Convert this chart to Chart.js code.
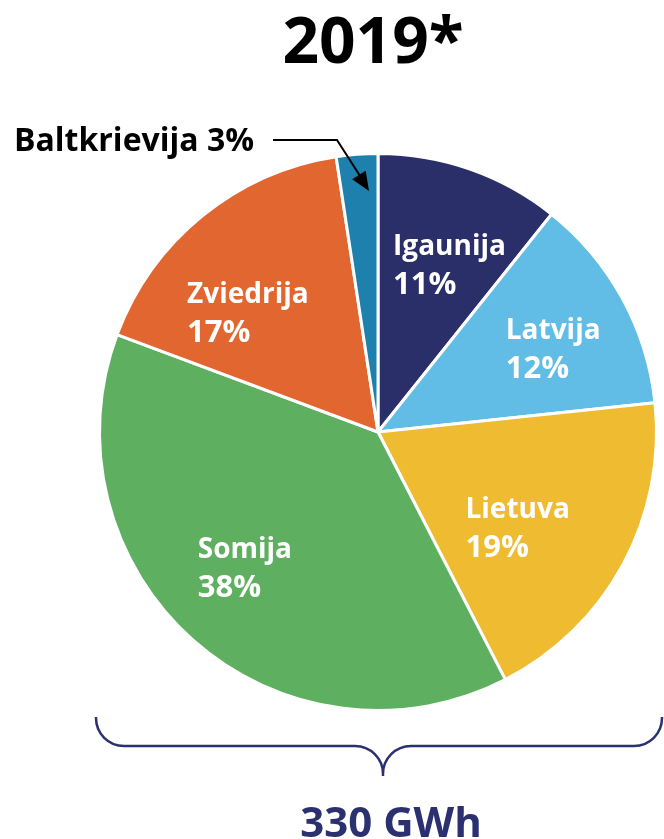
<!DOCTYPE html>
<html lang="lv">
<head>
    <meta charset="UTF-8">
    <title>2019*</title>
    <script src="https://cdn.jsdelivr.net/npm/chart.js"></script>
    <style>
        body {
            margin: 0;
            padding: 0;
            background: #fff;
            overflow: hidden;
        }
        #wrap {
            width: 664px;
            height: 839px;
            position: relative;
        }
    </style>
</head>
<body>
    <div id="wrap">
        <canvas id="pieChart"></canvas>
    </div>

    <script>
        // data (shares)
        const countries = ['Igaunija', 'Latvija', 'Lietuva', 'Somija', 'Zviedrija', 'Baltkrievija'];
        const shares = [10.7, 12.6, 19.1, 38.2, 16.9, 2.4];
        const shownPercent = ['11%', '12%', '19%', '38%', '17%', '3%'];
        const yearTitle = '2019*';
        const totalLabel = '330 GWh';

        const sliceColors = ['#2b2f69', '#62bde6', '#efbb31', '#5eb060', '#e2662f', '#1d80ad'];
        const navy = '#2b3170';
        const fontFamily = '"Open Sans", "Noto Sans", sans-serif';

        // where the labels sit inside the slices: [angle from top in deg, fraction of radius]
        const labelSpots = [[23, 0.657], [64.5, 0.697], [124.3, 0.607], [224.5, 0.682], [312.7, 0.636]];

        const textPlugin = {
            id: 'textPlugin',
            afterDraw(chart) {
                const ctx = chart.ctx;
                const arcs = chart.getDatasetMeta(0).data;
                const cx = arcs[0].x;
                const cy = arcs[0].y;
                const R = arcs[0].outerRadius;

                ctx.save();

                // title
                ctx.fillStyle = '#000';
                ctx.font = 'bold 64px ' + fontFamily;
                ctx.textAlign = 'center';
                ctx.textBaseline = 'alphabetic';
                ctx.fillText(yearTitle, 373, 63);

                // labels inside slices
                ctx.fillStyle = '#fff';
                ctx.textAlign = 'left';
                labelSpots.forEach(function(spot, i) {
                    const a = spot[0] * Math.PI / 180;
                    const px = cx + Math.sin(a) * R * spot[1];
                    const py = cy - Math.cos(a) * R * spot[1];
                    ctx.font = 'bold 28px ' + fontFamily;
                    const w1 = ctx.measureText(countries[i]).width;
                    ctx.font = 'bold 31px ' + fontFamily;
                    const w2 = ctx.measureText(shownPercent[i]).width;
                    const left = px - Math.max(w1, w2) / 2;
                    ctx.font = 'bold 28px ' + fontFamily;
                    ctx.fillText(countries[i], left, py - 9);
                    ctx.font = 'bold 31px ' + fontFamily;
                    ctx.fillText(shownPercent[i], left, py + 30);
                });

                // outside label for the small slice
                const last = countries.length - 1;
                ctx.fillStyle = '#000';
                ctx.font = 'bold 32px ' + fontFamily;
                ctx.fillText(countries[last] + ' ' + shownPercent[last], 14, 151);

                // arrow pointing to the small slice
                ctx.strokeStyle = '#000';
                ctx.lineWidth = 2;
                ctx.beginPath();
                ctx.moveTo(273, 140);
                ctx.lineTo(337, 140);
                ctx.lineTo(362, 179);
                ctx.stroke();
                const tipX = 369, tipY = 191;
                const ang = Math.atan2(tipY - 140, tipX - 337);
                ctx.beginPath();
                ctx.moveTo(tipX, tipY);
                ctx.lineTo(tipX - 19 * Math.cos(ang) + 8 * Math.sin(ang), tipY - 19 * Math.sin(ang) - 8 * Math.cos(ang));
                ctx.lineTo(tipX - 19 * Math.cos(ang) - 8 * Math.sin(ang), tipY - 19 * Math.sin(ang) + 8 * Math.cos(ang));
                ctx.closePath();
                ctx.fill();

                // curly brace under the pie
                const r = 28, top = 717, mid = 746, tipB = 776, bx = 383, left = 96, right = 662;
                ctx.strokeStyle = navy;
                ctx.lineWidth = 2.5;
                ctx.beginPath();
                ctx.moveTo(left, top);
                ctx.arc(left + r, top + 1, r, Math.PI, Math.PI / 2, true);
                ctx.lineTo(bx - r, mid);
                ctx.arc(bx - r, mid + r, r, -Math.PI / 2, 0, false);
                ctx.lineTo(bx, tipB);
                ctx.moveTo(bx, mid + r);
                ctx.arc(bx + r, mid + r, r, Math.PI, -Math.PI / 2, false);
                ctx.lineTo(right - r, mid);
                ctx.arc(right - r, top + 1, r, Math.PI / 2, 0, true);
                ctx.lineTo(right, top);
                ctx.stroke();

                // total
                ctx.fillStyle = navy;
                ctx.font = 'bold 42px ' + fontFamily;
                ctx.textAlign = 'center';
                ctx.fillText(totalLabel, 391, 837);

                ctx.restore();
            }
        };

        new Chart(document.getElementById('pieChart').getContext('2d'), {
            type: 'pie',
            data: {
                labels: countries,
                datasets: [{
                    data: shares,
                    backgroundColor: sliceColors,
                    borderColor: '#fff',
                    borderWidth: 3
                }]
            },
            options: {
                responsive: true,
                maintainAspectRatio: false,
                animation: false,
                events: [],
                layout: {
                    padding: { left: 98, right: 6, top: 152, bottom: 127 }
                },
                plugins: {
                    legend: { display: false },
                    tooltip: { enabled: false }
                }
            },
            plugins: [textPlugin]
        });
    </script>
</body>
</html>
